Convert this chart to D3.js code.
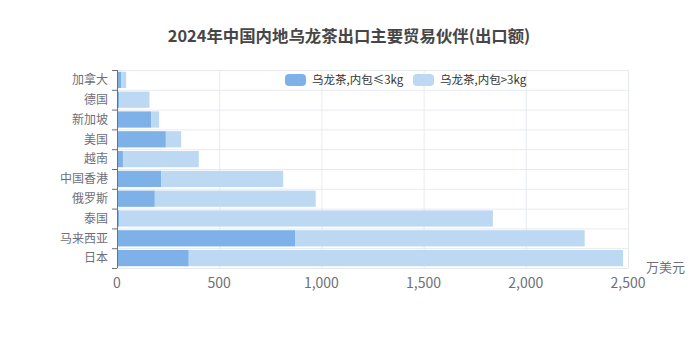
<!DOCTYPE html>
<html lang="zh">
<head>
<meta charset="utf-8">
<title>2024年中国内地乌龙茶出口主要贸易伙伴</title>
<script src="https://cdn.jsdelivr.net/npm/d3@7"></script>
<style>
  body { margin: 0; background: #fff; }
  text { font-family: "Noto Sans CJK SC", "Noto Sans", sans-serif; }
</style>
</head>
<body>
<div id="chart"></div>
<script>
// countries, top to bottom
const countries = ["加拿大", "德国", "新加坡", "美国", "越南", "中国香港", "俄罗斯", "泰国", "马来西亚", "日本"];
// 乌龙茶,内包≤3kg (万美元)
const smallPack = [21, 11, 167, 239, 29, 217, 185, 11, 871, 351];
// 乌龙茶,内包>3kg (万美元)
const bigPack = [24, 148, 39, 75, 371, 596, 787, 1828, 1417, 2125];
const seriesNames = ["乌龙茶,内包≤3kg", "乌龙茶,内包>3kg"];
const colors = ["#7db1e7", "#bdd8f2"];
const xTicks = [0, 500, 1000, 1500, 2000, 2500];

const W = 698, H = 349;
const margin = {top: 70, right: 70, bottom: 81, left: 117};
const w = W - margin.left - margin.right;
const h = H - margin.top - margin.bottom;

const svg = d3.select("#chart").append("svg")
  .attr("width", W).attr("height", H);

svg.append("text")
  .attr("x", W / 2).attr("y", 42)
  .attr("text-anchor", "middle")
  .attr("font-size", 16.4).attr("font-weight", "bold")
  .attr("fill", "#464646")
  .text("2024年中国内地乌龙茶出口主要贸易伙伴(出口额)");

const g = svg.append("g")
  .attr("transform", "translate(" + margin.left + "," + margin.top + ")");

const x = d3.scaleLinear().domain([0, 2500]).range([0, w]);
const y = d3.scaleBand().domain(countries).range([0, h]).paddingInner(0.18).paddingOuter(0.09);

// band boundaries for grid lines / ticks
const step = h / countries.length;
const bounds = d3.range(countries.length + 1).map(i => i * step);

// grid
g.selectAll(".hgrid").data(bounds).join("line")
  .attr("x1", 0).attr("x2", w)
  .attr("y1", d => d + 0.5).attr("y2", d => d + 0.5)
  .attr("stroke", "#e6eaf0");
g.selectAll(".vgrid").data(xTicks).join("line")
  .attr("x1", d => x(d) + 0.5).attr("x2", d => x(d) + 0.5)
  .attr("y1", 0).attr("y2", h)
  .attr("stroke", "#e6eaf0");

// bars
const rows = countries.map((c, i) => ({c, a: smallPack[i], b: bigPack[i]}));
g.selectAll(".barA").data(rows).join("rect")
  .attr("x", 0).attr("y", d => y(d.c))
  .attr("width", d => x(d.a)).attr("height", y.bandwidth())
  .attr("fill", colors[0]);
g.selectAll(".barB").data(rows).join("rect")
  .attr("x", d => x(d.a)).attr("y", d => y(d.c))
  .attr("width", d => x(d.a + d.b) - x(d.a)).attr("height", y.bandwidth())
  .attr("fill", colors[1]);

// y axis
g.append("line")
  .attr("x1", 0.5).attr("x2", 0.5).attr("y1", 0).attr("y2", h)
  .attr("stroke", "#6e7079");
g.selectAll(".ytick").data(bounds).join("line")
  .attr("x1", -5).attr("x2", 0)
  .attr("y1", d => d + 0.5).attr("y2", d => d + 0.5)
  .attr("stroke", "#6e7079");
g.selectAll(".ylab").data(countries).join("text")
  .attr("x", -9).attr("y", d => y(d) + y.bandwidth() / 2)
  .attr("dy", "0.35em").attr("text-anchor", "end")
  .attr("font-size", 12).attr("fill", "#6e7079")
  .text(d => d);

// x labels
const fmt = d3.format(",");
g.selectAll(".xlab").data(xTicks).join("text")
  .attr("x", d => x(d)).attr("y", h + 15)
  .attr("dy", "0.35em").attr("text-anchor", "middle")
  .attr("font-size", 14).attr("fill", "#6e7079")
  .text(d => fmt(d));

g.append("text")
  .attr("x", w + 18).attr("y", h - 1)
  .attr("dy", "0.35em")
  .attr("font-size", 13).attr("fill", "#6e7079")
  .text("万美元");

// legend
const legend = svg.append("g").attr("transform", "translate(285,80)");
const lx = [0, 128];
seriesNames.forEach((name, i) => {
  legend.append("rect")
    .attr("x", lx[i]).attr("y", -6).attr("width", 21).attr("height", 12)
    .attr("rx", 4).attr("fill", colors[i]);
  legend.append("text")
    .attr("x", lx[i] + 27).attr("y", 0).attr("dy", "0.35em")
    .attr("font-size", 11.5).attr("fill", "#333")
    .text(name);
});
</script>
</body>
</html>
